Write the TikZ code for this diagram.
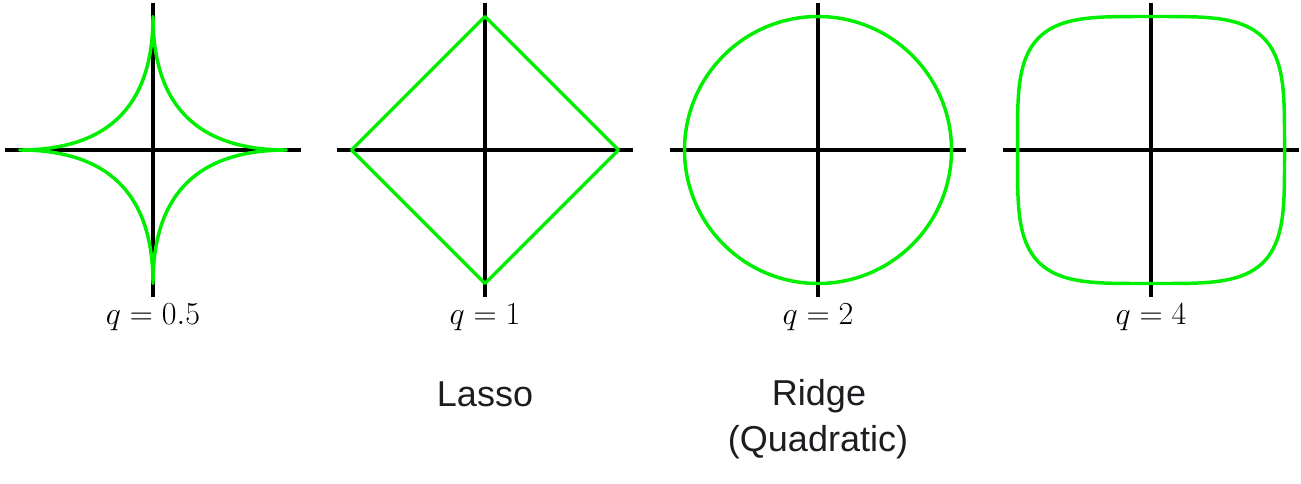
\documentclass[tikz,border=0pt]{standalone}
\usepackage{fontspec}
\newfontfamily\labelsans{Liberation Sans}
\definecolor{curvegreen}{RGB}{0,238,0}
\definecolor{txtgray}{RGB}{28,29,32}
\newcommand{\qtext}[1]{\scalebox{1.16}{\huge$#1$}}
\begin{document}
\begin{tikzpicture}[x=0.75pt,y=-0.75pt,
  axis/.style={black,line width=2.5pt},
  curve/.style={curvegreen,line width=2.6pt,line join=round},
  qlabel/.style={anchor=base,inner sep=0pt},
  caption/.style={anchor=base,inner sep=0pt,text=txtgray,font=\labelsans\fontsize{27}{32}\selectfont}]
\useasboundingbox (0,0) rectangle (1301,483);
% axes
\foreach \cx in {153,485,818,1151}{
  \draw[axis] ({\cx-148},150) -- ({\cx+148},150);
  \draw[axis] (\cx,3) -- (\cx,297);
}
% q = 0.5
\draw[curve] plot[variable=\t,domain=0:360,samples=721]
  ({153+133.5*cos(\t)*cos(\t)*cos(\t)*abs(cos(\t))},{150+133.5*sin(\t)*sin(\t)*sin(\t)*abs(sin(\t))}) -- cycle;
% q = 1
\draw[curve] (351.5,150) -- (485,16.5) -- (618.5,150) -- (485,283.5) -- cycle;
% q = 2
\draw[curve] (818,150) circle[radius=133.5];
% q = 4
\draw[curve] plot[variable=\t,domain=0:360,samples=721]
  ({1151+133.5*sign(cos(\t))*sqrt(abs(cos(\t)))},{150+133.5*sign(sin(\t))*sqrt(abs(sin(\t)))}) -- cycle;
% labels
\node[qlabel] (l1) at (153,324) {\qtext{q=0.5}};
\node[qlabel] (l2) at (485,324) {\qtext{q=1}};
\node[qlabel] (l3) at (818,324) {\qtext{q=2}};
\node[qlabel] (l4) at (1151,324) {\qtext{q=4}};
\node[caption] (lasso) at (485,406) {Lasso};
\node[caption] (ridge) at (819,405) {Ridge};
\node[caption] (quad) at (818,451) {(Quadratic)};
\end{tikzpicture}
\end{document}
